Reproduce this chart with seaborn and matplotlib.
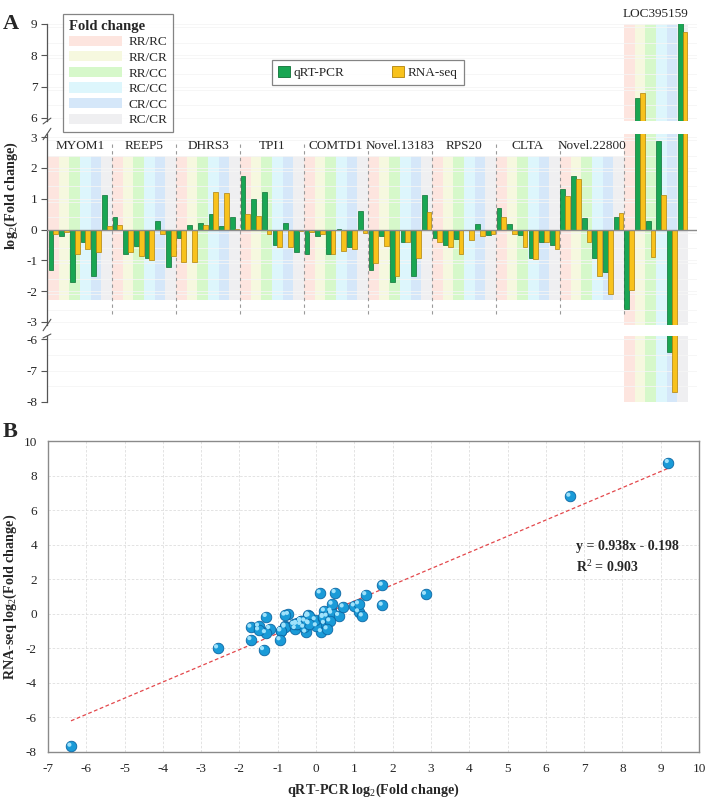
import numpy as np
import pandas as pd
import matplotlib
matplotlib.use('Agg')
import matplotlib.pyplot as plt
from matplotlib.patches import Patch
from matplotlib.transforms import offset_copy
import seaborn as sns

genes = ['MYOM1', 'REEP5', 'DHRS3', 'TPI1', 'COMTD1', 'Novel.13183',
         'RPS20', 'CLTA', 'Novel.22800', 'LOC395159']
comparisons = ['RR/RC', 'RR/CR', 'RR/CC', 'RC/CC', 'CR/CC', 'RC/CR']
methods = ['qRT-PCR', 'RNA-seq']

# log2 fold change, one row per gene, columns follow `comparisons`
qpcr = [
    [-1.30, -0.20, -1.70, -0.40, -1.50, 1.11],
    [0.39, -0.81, -0.54, -0.92, 0.29, -1.21],
    [-0.27, 0.14, 0.22, 0.50, 0.11, 0.41],
    [1.73, 1.00, 1.21, -0.51, 0.22, -0.72],
    [-0.81, -0.22, -0.81, 0.01, -0.58, 0.59],
    [-1.32, -0.20, -1.70, -0.40, -1.50, 1.11],
    [-0.29, -0.51, -0.32, -0.02, 0.19, -0.18],
    [0.71, 0.19, -0.18, -0.92, -0.40, -0.51],
    [1.30, 1.73, 0.36, -0.94, -1.37, 0.42],
    [-2.57, 6.63, 0.29, 2.86, -6.40, 9.20],
]
rnaseq = [
    [-0.16, -0.07, -0.78, -0.62, -0.72, 0.11],
    [0.15, -0.72, -0.86, -1.00, -0.14, -0.86],
    [-1.07, -1.04, 0.16, 1.22, 1.20, 0.03],
    [0.49, 0.45, -0.13, -0.58, -0.56, -0.04],
    [-0.08, -0.16, -0.78, -0.70, -0.62, -0.10],
    [-1.10, -0.53, -1.50, -0.40, -0.94, 0.57],
    [-0.42, -0.56, -0.78, -0.35, -0.22, -0.13],
    [0.39, -0.16, -0.58, -0.97, -0.42, -0.62],
    [1.10, 1.65, -0.42, -1.51, -2.08, 0.55],
    [-1.98, 6.80, -0.88, 1.12, -7.67, 8.75],
]

band_colors = ['#fde5df', '#f6f8df', '#d6f8ca', '#ddf6fc', '#d5e7f9', '#efeff1']
bar_colors = {'qRT-PCR': '#19a653', 'RNA-seq': '#f8c21c'}
bar_edges = {'qRT-PCR': '#0e7236', 'RNA-seq': '#b0820a'}

rows = []
for gi, g in enumerate(genes):
    for ci, c in enumerate(comparisons):
        slot = g + '|' + c
        rows.append((slot, g, c, 'qRT-PCR', qpcr[gi][ci]))
        rows.append((slot, g, c, 'RNA-seq', rnaseq[gi][ci]))
df = pd.DataFrame(rows, columns=['slot', 'gene', 'comparison', 'method', 'value'])
order = list(df['slot'].unique())

sns.set_theme(style='white')
plt.rcParams['font.family'] = ['Liberation Serif', 'DejaVu Serif']
plt.rcParams['mathtext.fontset'] = 'custom'
plt.rcParams['mathtext.rm'] = 'Liberation Serif'
plt.rcParams['mathtext.bf'] = 'Liberation Serif:bold'
plt.rcParams['axes.unicode_minus'] = False

W, H = 714, 806
fig = plt.figure(figsize=(W / 100, H / 100), dpi=100)


def px_axes(x0, y0, x1, y1):
    return fig.add_axes([x0 / W, 1 - y1 / H, (x1 - x0) / W, (y1 - y0) / H])


ax_top = px_axes(47, 24, 697, 121)
ax_mid = px_axes(47, 134, 697, 325)
ax_bot = px_axes(47, 336, 697, 402)
panels = [(ax_top, (5.9, 9.0), [6, 7, 8, 9]),
          (ax_mid, (-3.1, 3.1), list(range(-3, 4))),
          (ax_bot, (-8.0, -5.9), [-8, -7, -6])]

loc_idx = genes.index('LOC395159')
for ax, lim, ticks in panels:
    sns.barplot(data=df, x='slot', y='value', hue='method', order=order,
                hue_order=methods, palette=bar_colors, width=0.9, saturation=1,
                errorbar=None, legend=False, ax=ax, zorder=2)
    for cont, m in zip(ax.containers, methods):
        for p in cont:
            p.set_edgecolor(bar_edges[m])
            p.set_linewidth(0.5)
    # shaded comparison bands
    for i in range(len(order)):
        gi, ci = divmod(i, 6)
        if gi == loc_idx:
            ax.axvspan(i - 0.5, i + 0.5, color=band_colors[ci], lw=0, zorder=0)
        elif ax is ax_mid:
            ax.fill_between([i - 0.5, i + 0.5], -2.3, 2.4, color=band_colors[ci],
                            lw=0, zorder=0)
    ax.set_xlim(-0.6, 60.35)
    ax.set_ylim(*lim)
    ax.set_yticks(ticks)
    ax.set_yticklabels([str(t) for t in ticks], fontsize=9.5)
    ax.set_xticks([])
    ax.set_xlabel('')
    ax.set_ylabel('')
    for s in ['top', 'right', 'bottom']:
        ax.spines[s].set_visible(False)
    ax.spines['left'].set_color('#555555')
    ax.spines['left'].set_linewidth(0.9)
    ax.tick_params(axis='y', direction='out', length=4, width=0.8, color='#555555', pad=3, left=True)
    ax.set_yticks(np.arange(lim[0], lim[1] + 0.01, 0.5), minor=True)
    ax.tick_params(axis='y', which='minor', length=0)
    ax.grid(axis='y', which='both', color='#f5f5f5', lw=0.6, zorder=-1)
    ax.set_axisbelow(True)
    ax.patch.set_alpha(0)

# break marks on the y axis
for ax, where in [(ax_top, 0), (ax_mid, 1), (ax_mid, 0), (ax_bot, 1)]:
    ax.plot([-0.006, 0.006], [where - 0.03, where + 0.03], transform=ax.transAxes,
            color='#555555', lw=0.8, clip_on=False)

ax_mid.axhline(0, color='#8c8c8c', lw=1, zorder=3)
ax_mid.vlines([6 * g - 0.5 for g in range(1, len(genes))], -2.75, 2.8,
              colors='#9a9a9a', linestyles=(0, (3, 3)), lw=0.8, zorder=1)
for gi, g in enumerate(genes):
    if gi == loc_idx:
        ax_top.text(6 * gi + 2.5, 9.32, g, ha='center', va='center', fontsize=9.5,
                    clip_on=False)
    else:
        ax_mid.text(6 * gi + 2.5, 2.72, g, ha='center', va='center', fontsize=9.5)

ax_mid.set_ylabel('log$_2$(Fold change)', fontsize=10.3, fontweight='bold')
ax_mid.yaxis.set_label_coords(-0.041, 0.675)

band_handles = [Patch(facecolor=c, edgecolor='none') for c in band_colors]
leg1 = fig.legend(band_handles, comparisons, title='Fold change', loc='upper left',
                  bbox_to_anchor=(63 / W, 1 - 14 / H), frameon=True, fancybox=False,
                  edgecolor='#666666', fontsize=9.5, handlelength=4.0, handleheight=0.8,
                  labelspacing=0.22, borderpad=0.45, handletextpad=0.5,
                  borderaxespad=0)
leg1.get_title().set_fontweight('bold')
leg1.get_title().set_fontsize(10.5)
leg1._legend_box.align = 'left'
leg1.get_frame().set_linewidth(0.9)

method_handles = [Patch(facecolor=bar_colors[m], edgecolor=bar_edges[m], lw=0.6) for m in methods]
leg2 = fig.legend(method_handles, methods, loc='upper left', ncol=2,
                  bbox_to_anchor=(272 / W, 1 - 60 / H), frameon=True, fancybox=False,
                  edgecolor='#666666', fontsize=9.5, handlelength=0.9, handleheight=0.9,
                  columnspacing=3.6, borderpad=0.45, handletextpad=0.3,
                  borderaxespad=0)
leg2.get_frame().set_linewidth(0.9)

fig.text(3 / W, 1 - 24 / H, 'A', fontsize=16, fontweight='bold', va='center')
fig.text(3 / W, 1 - 432 / H, 'B', fontsize=16, fontweight='bold', va='center')

# panel B: scatter of RNA-seq vs qRT-PCR
q_all = np.array(qpcr).ravel()
r_all = np.array(rnaseq).ravel()
ax_sc = px_axes(48, 441, 699, 752)
sns.regplot(x=q_all, y=r_all, scatter=False, ci=None, ax=ax_sc,
            line_kws=dict(color='#e3474b', ls=(0, (3, 2)), lw=0.9, zorder=2))
sns.scatterplot(x=q_all, y=r_all, s=58, color='#1a9bd8', edgecolor='#0b66a3',
                linewidth=0.6, ax=ax_sc, zorder=3)
# small highlight on each sphere
hl = offset_copy(ax_sc.transData, fig=fig, x=-1.6, y=1.6, units='dots')
ax_sc.scatter(q_all, r_all, s=9, color='#9fe2fb', edgecolor='none', transform=hl, zorder=4)
ax_sc.set_xlim(-7, 10)
ax_sc.set_ylim(-8, 10)
ax_sc.set_xticks(range(-7, 11))
ax_sc.set_yticks(range(-8, 11, 2))
ax_sc.tick_params(length=0, labelsize=9.5, pad=8)
ax_sc.grid(True, color='#dedede', ls=(0, (3, 2)), lw=0.6)
for s in ax_sc.spines.values():
    s.set_color('#8a8a8a')
    s.set_linewidth(1)
ax_sc.set_xlabel('qRT-PCR log$_2$(Fold change)', fontsize=10.2, fontweight='bold')
ax_sc.set_ylabel('RNA-seq log$_2$(Fold change)', fontsize=10.2, fontweight='bold')
ax_sc.xaxis.set_label_coords(0.5, -0.095)
ax_sc.yaxis.set_label_coords(-0.045, 0.5)
ax_sc.text(6.78, 3.87, 'y = 0.938x - 0.198', fontsize=10, fontweight='bold', va='center')
ax_sc.text(6.78, 2.7, 'R$^2$ = 0.903', fontsize=10, fontweight='bold', va='center')

fig.savefig('out.png', dpi=100)
